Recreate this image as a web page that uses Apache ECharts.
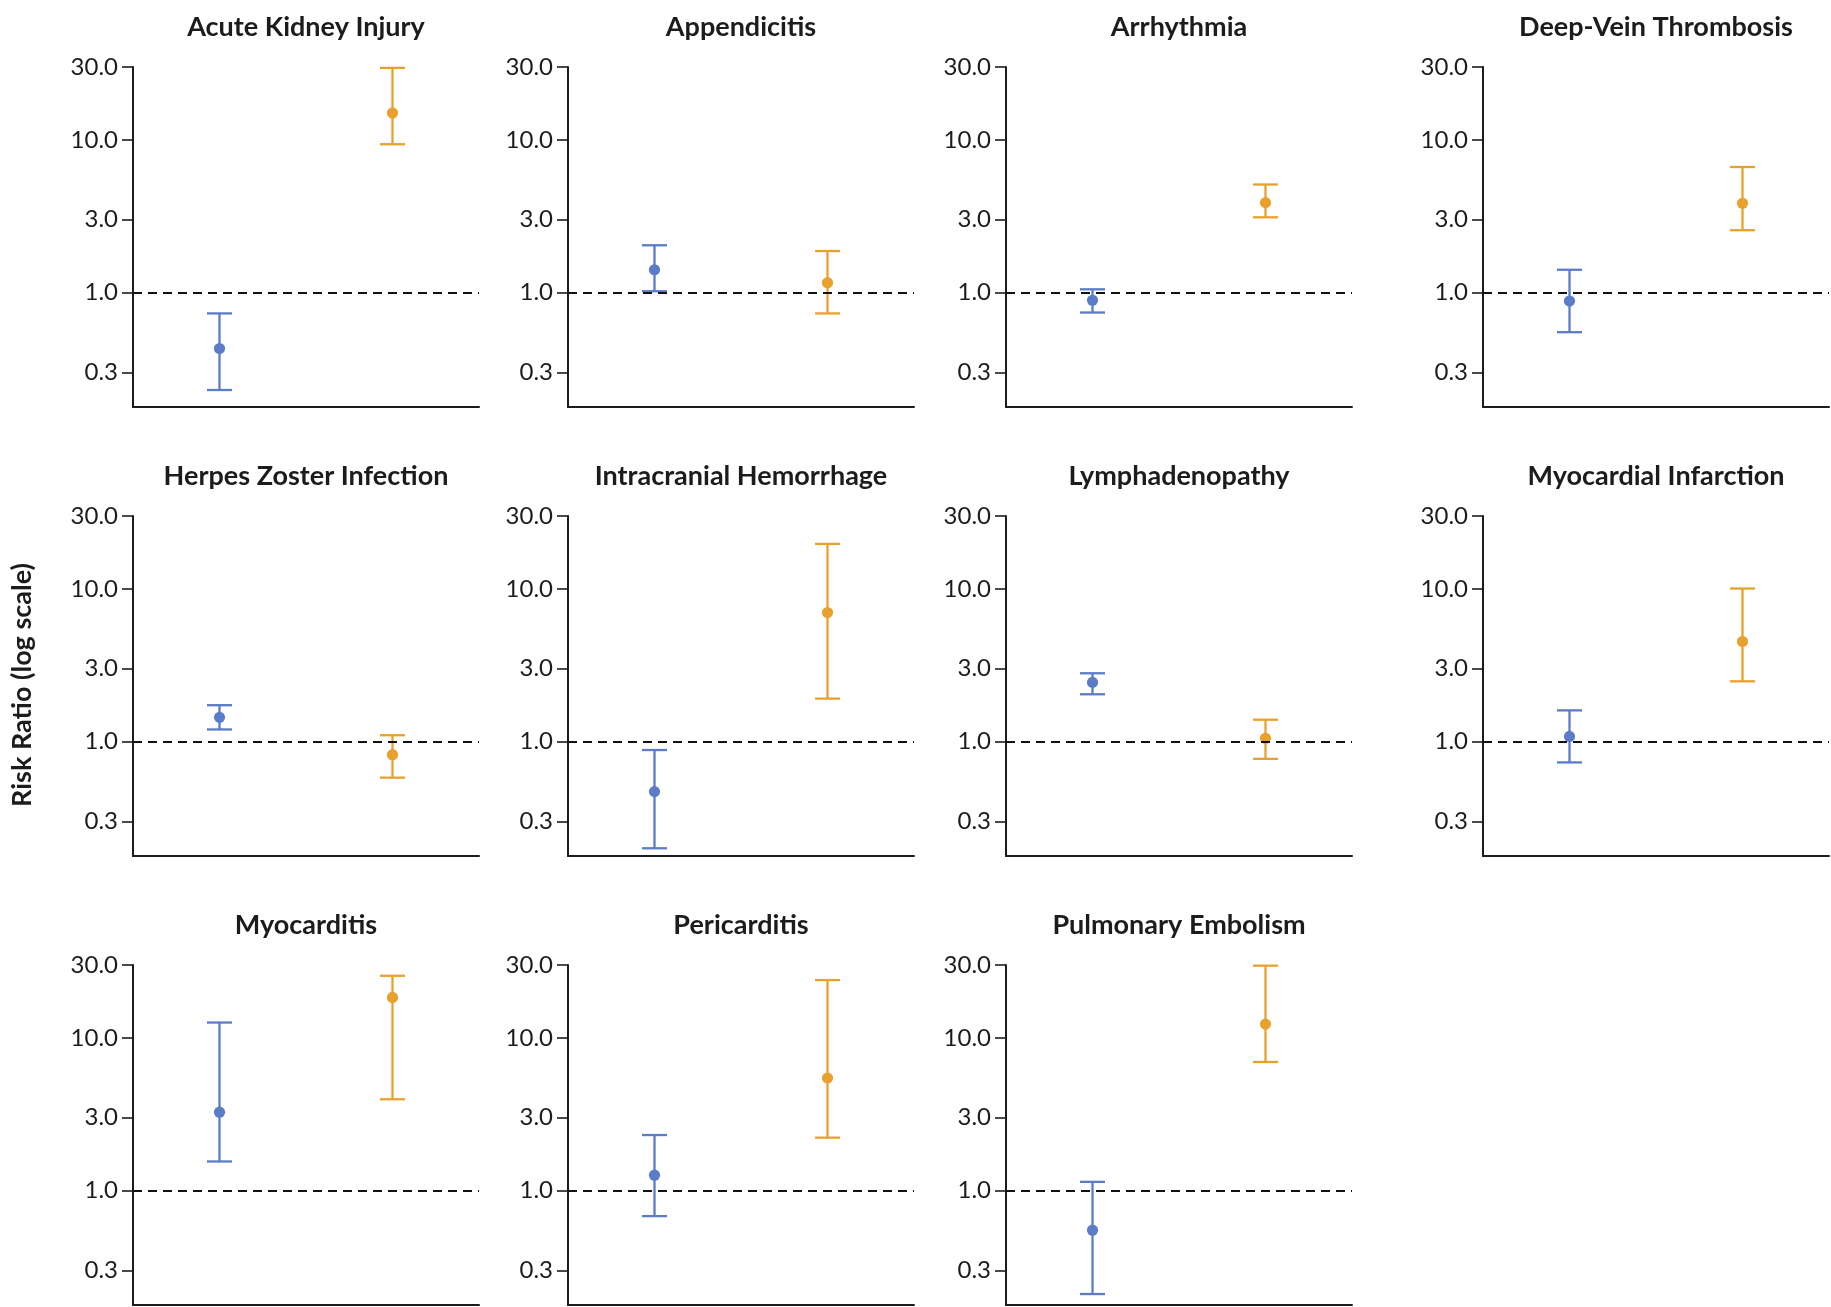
<!DOCTYPE html>
<html>
<head>
<meta charset="utf-8">
<script src="https://cdn.jsdelivr.net/npm/echarts@6/dist/echarts.min.js"></script>
<style>
  html, body { margin: 0; padding: 0; background: #ffffff; }
  #chart { width: 1831px; height: 1307px; }
</style>
</head>
<body>
<div id="chart"></div>
<script>
// ---- Data (risk ratios) ----
const conditions = [
  'Acute Kidney Injury', 'Appendicitis', 'Arrhythmia', 'Deep-Vein Thrombosis',
  'Herpes Zoster Infection', 'Intracranial Hemorrhage', 'Lymphadenopathy', 'Myocardial Infarction',
  'Myocarditis', 'Pericarditis', 'Pulmonary Embolism'
];
const groups = ['Vaccination', 'SARS-CoV-2 Infection'];
// blue group
const vaccRR   = [0.43, 1.41, 0.89, 0.88, 1.44, 0.47, 2.44, 1.08, 3.26, 1.26, 0.55];
const vaccLow  = [0.23, 1.02, 0.74, 0.55, 1.20, 0.20, 2.04, 0.73, 1.55, 0.68, 0.21];
const vaccHigh = [0.73, 2.04, 1.05, 1.41, 1.73, 0.88, 2.80, 1.60, 12.6, 2.31, 1.14];
// orange group
const infRR    = [15.0, 1.16, 3.88, 3.84, 0.82, 7.0, 1.05, 4.52, 18.4, 5.46, 12.3];
const infLow   = [9.36, 0.73, 3.11, 2.56, 0.58, 1.91, 0.77, 2.48, 3.96, 2.22, 6.95];
const infHigh  = [29.6, 1.87, 5.10, 6.64, 1.10, 19.7, 1.39, 10.05, 25.5, 23.9, 29.7];
// y-axis ticks
const yTicks = [0.3, 1, 3, 10, 30];
const yMin = 0.178, yMax = 30;
const refValue = 1;

// ---- Styling / layout ----
const BLUE = '#5b7cc6';
const ORANGE = '#e9a12e';
const INK = '#1c1c1c';
const FONT = 'Lato';
const gridLefts = [133, 568, 1006, 1483];
const gridTops = [67, 516, 965];
const gridW = 346, gridH = 340;

function renderItem(params, api) {
  const x = api.value(0);
  const rr = api.value(1), lo = api.value(2), hi = api.value(3);
  const color = api.visual('color');
  const pH = api.coord([x, hi]);
  const pL = api.coord([x, lo]);
  const pC = api.coord([x, rr]);
  const half = 12.5;
  const st = { stroke: color, lineWidth: 2.3 };
  return {
    type: 'group',
    children: [
      { type: 'line', shape: { x1: pH[0], y1: pH[1], x2: pL[0], y2: pL[1] }, style: st },
      { type: 'line', shape: { x1: pH[0] - half, y1: pH[1], x2: pH[0] + half, y2: pH[1] }, style: st },
      { type: 'line', shape: { x1: pL[0] - half, y1: pL[1], x2: pL[0] + half, y2: pL[1] }, style: st },
      { type: 'circle', shape: { cx: pC[0], cy: pC[1], r: 5.6 }, style: { fill: color } }
    ]
  };
}

const grids = [], xAxes = [], yAxes = [], series = [], titles = [];
conditions.forEach((name, i) => {
  const col = i % 4, row = Math.floor(i / 4);
  const left = gridLefts[col], top = gridTops[row];
  grids.push({ left: left, top: top, width: gridW, height: gridH, containLabel: false });
  titles.push({
    text: name,
    left: left + gridW / 2,
    top: top - 56,
    textAlign: 'center',
    padding: 0,
    textStyle: { fontFamily: FONT, fontWeight: 'bold', fontSize: 27, color: INK, lineHeight: 32 }
  });
  xAxes.push({
    type: 'category', gridIndex: i, data: groups, boundaryGap: true,
    axisLine: { show: true, onZero: false, lineStyle: { color: INK, width: 2 } },
    axisTick: { show: false }, axisLabel: { show: false }, splitLine: { show: false }
  });
  yAxes.push({
    type: 'log', logBase: 10, gridIndex: i, min: yMin, max: yMax,
    axisLine: { show: true, lineStyle: { color: INK, width: 2 } },
    axisTick: { show: true, length: 11, customValues: yTicks, lineStyle: { color: INK, width: 1.6 } },
    axisLabel: {
      show: true, customValues: yTicks, margin: 15,
      formatter: v => Number(v).toFixed(1),
      fontFamily: FONT, fontSize: 24, color: INK
    },
    splitLine: { show: false }, minorTick: { show: false }
  });
  series.push({
    type: 'custom', xAxisIndex: i, yAxisIndex: i,
    renderItem: renderItem,
    encode: { x: 0, y: [1, 2, 3] },
    data: [
      { value: [0, vaccRR[i], vaccLow[i], vaccHigh[i]], itemStyle: { color: BLUE } },
      { value: [1, infRR[i], infLow[i], infHigh[i]], itemStyle: { color: ORANGE } }
    ],
    z: 3,
    markLine: {
      silent: true, symbol: 'none', animation: false,
      label: { show: false },
      lineStyle: { color: '#111111', width: 1.9, type: [9, 6] },
      data: [{ yAxis: refValue }]
    }
  });
});

const chart = echarts.init(document.getElementById('chart'), null, { renderer: 'canvas' });
chart.setOption({
  backgroundColor: '#ffffff',
  animation: false,
  title: titles,
  grid: grids,
  xAxis: xAxes,
  yAxis: yAxes,
  series: series,
  graphic: [{
    type: 'text', x: 22, y: 685, rotation: Math.PI / 2,
    style: { text: 'Risk Ratio (log scale)', align: 'center', verticalAlign: 'middle',
             font: 'bold 27px Lato', fill: INK }
  }]
});
</script>
</body>
</html>
